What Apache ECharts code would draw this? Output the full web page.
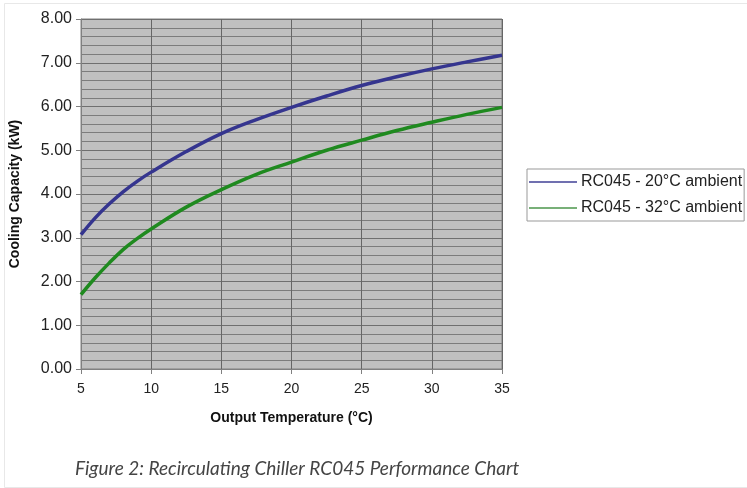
<!DOCTYPE html>
<html>
<head>
<meta charset="utf-8">
<script src="https://cdn.jsdelivr.net/npm/echarts@6/dist/echarts.min.js"></script>
<style>
html,body{margin:0;padding:0;background:#fff;}
#c{width:747px;height:488px;}
</style>
</head>
<body>
<div id="c"></div>
<script>
var temps = [5, 6, 7, 8, 9, 10, 12.5, 15, 17.5, 20, 22.5, 25, 27.5, 30, 32.5, 35];
var ambient20 = [3.07, 3.45, 3.77, 4.05, 4.29, 4.50, 4.97, 5.38, 5.70, 5.98, 6.24, 6.48, 6.68, 6.86, 7.02, 7.17];
var ambient32 = [1.70, 2.08, 2.42, 2.73, 2.98, 3.20, 3.70, 4.10, 4.45, 4.73, 5.00, 5.23, 5.45, 5.64, 5.82, 5.98];
var seriesNames = ['RC045 - 20°C ambient', 'RC045 - 32°C ambient'];
var caption = 'Figure 2: Recirculating Chiller RC045 Performance Chart';

function pairs(xs, ys){ return xs.map(function(x,i){ return [x, ys[i]]; }); }

var chart = echarts.init(document.getElementById('c'), null, {renderer:'canvas'});
chart.setOption({
  animation:false,
  backgroundColor:'#fff',
  grid:{left:81, top:19, right:245, bottom:119, show:true, backgroundColor:'#c0c0c0', borderColor:'#808080', borderWidth:1},
  xAxis:{
    type:'value', min:5, max:35, interval:5,
    name:'Output Temperature (°C)', nameLocation:'middle', nameGap:42,
    nameTextStyle:{fontFamily:'Liberation Sans', fontWeight:'bold', fontSize:14, color:'#111'},
    axisLine:{show:true, lineStyle:{color:'#808080'}},
    axisTick:{show:true, length:5, lineStyle:{color:'#808080'}},
    axisLabel:{fontFamily:'Liberation Sans', fontSize:14, color:'#222', margin:13},
    splitLine:{show:true, lineStyle:{color:'#666', width:1}}
  },
  yAxis:{
    type:'value', min:0, max:8, interval:1,
    name:'Cooling Capacity (kW)', nameLocation:'middle', nameGap:59,
    nameTextStyle:{fontFamily:'Liberation Sans', fontWeight:'bold', fontSize:14, color:'#111'},
    axisLine:{show:true, lineStyle:{color:'#808080'}},
    axisTick:{show:true, length:5, lineStyle:{color:'#808080'}},
    axisLabel:{fontFamily:'Liberation Sans', fontSize:16, color:'#222', margin:9, formatter:function(v){return v.toFixed(2);}},
    splitLine:{show:true, lineStyle:{color:'#6f6f6f', width:1}},
    minorTick:{show:false, splitNumber:5},
    minorSplitLine:{show:true, lineStyle:{color:'#7c7c7c', width:1}}
  },
  legend:{
    orient:'vertical', left:527, top:169,
    backgroundColor:'#fff', borderColor:'#999', borderWidth:1,
    padding:[5,2,5,2], itemGap:10, itemWidth:48, itemHeight:2,
    icon:'rect',
    textStyle:{fontFamily:'Liberation Sans', fontSize:16, color:'#222', padding:[0,0,0,-1]},
    data:[
      {name:seriesNames[0], itemStyle:{color:'#7070b0'}},
      {name:seriesNames[1], itemStyle:{color:'#78b078'}}
    ]
  },
  graphic:[
    {type:'rect', left:2, top:1, shape:{width:743, height:484}, style:{fill:'none', stroke:'#e8e8e8', lineWidth:1}, silent:true},
    {type:'text', left:75, top:459, style:{text:caption, font:'italic 19px Lato', fill:'#444'}}
  ],
  series:[
    {name:seriesNames[0], type:'line', smooth:0.4, symbol:'none', showSymbol:false, data:pairs(temps, ambient20), lineStyle:{color:'#35358f', width:3.5}, itemStyle:{color:'#35358f'}},
    {name:seriesNames[1], type:'line', smooth:0.4, symbol:'none', showSymbol:false, data:pairs(temps, ambient32), lineStyle:{color:'#1f8a1f', width:3.5}, itemStyle:{color:'#1f8a1f'}}
  ]
});
</script>
</body>
</html>
